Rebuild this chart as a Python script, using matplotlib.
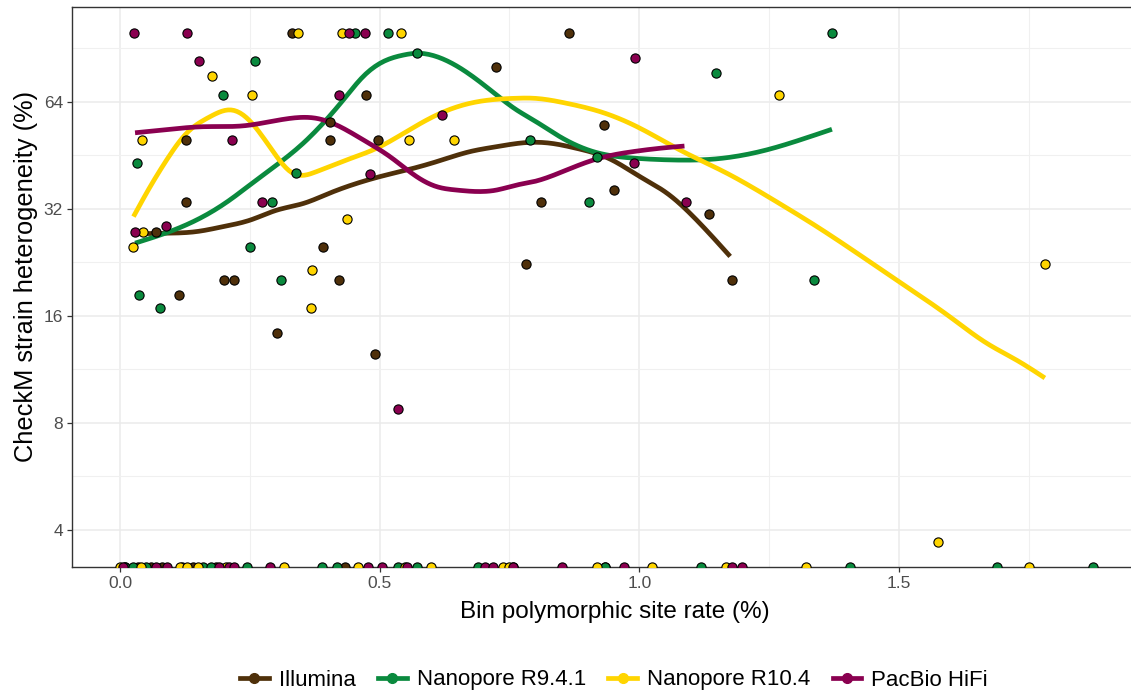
import numpy as np
import matplotlib
matplotlib.use("Agg")
import matplotlib.pyplot as plt
from matplotlib.lines import Line2D
from matplotlib.ticker import FixedLocator, FixedFormatter

plt.rcParams['font.family'] = ['Liberation Sans', 'DejaVu Sans']

# ---------------- data ----------------
groups = ["Illumina", "Nanopore R9.4.1", "Nanopore R10.4", "PacBio HiFi"]
colors = ["#4F300A", "#0A8A3E", "#FFD500", "#8A0050"]

# points (0 = zero heterogeneity, drawn at the panel floor)
illumina_x = [0.331, 0.865, 0.725, 0.473, 0.404, 0.128, 0.404, 0.496, 0.933, 0.952,
              0.127, 0.811, 1.135, 0.069, 0.391, 0.782, 0.201, 0.220, 0.421, 1.179,
              0.114, 0.302, 0.491,
              0.010, 0.035, 0.060, 0.080, 0.120, 0.140, 0.185, 0.433, 0.757, 0.934]
illumina_y = [100, 100, 80, 67, 56, 50, 50, 50, 55, 36,
              33.4, 33.4, 31, 27.6, 25, 22.4, 20.2, 20.2, 20.2, 20.2,
              18.3, 14.3, 12.5,
              0, 0, 0, 0, 0, 0, 0, 0, 0, 0]

r941_x = [0.453, 0.517, 1.371, 0.571, 0.260, 1.147, 0.199, 0.790, 0.918, 0.032,
          0.338, 0.292, 0.904, 0.250, 0.311, 1.337, 0.037, 0.077,
          0.010, 0.025, 0.050, 0.160, 0.175, 0.245, 0.389, 0.418, 0.535, 0.572,
          0.689, 0.934, 1.119, 1.405, 1.689, 1.873]
r941_y = [100, 100, 100, 87.5, 83, 77, 67, 50, 44.6, 43,
          40.3, 33.4, 33.4, 25, 20.2, 20.2, 18.3, 16.8,
          0, 0, 0, 0, 0, 0, 0, 0, 0, 0,
          0, 0, 0, 0, 0, 0]

r104_x = [0.343, 0.427, 0.542, 0.177, 0.254, 1.270, 0.042, 0.557, 0.644, 0.437,
          0.044, 0.026, 0.369, 0.367, 1.782, 1.576,
          0.000, 0.040, 0.115, 0.130, 0.150, 0.205, 0.316, 0.458, 0.548, 0.598,
          0.737, 0.750, 0.918, 1.024, 1.167, 1.322, 1.750]
r104_y = [100, 100, 100, 75.5, 67, 67, 50, 50, 50, 30,
          27.6, 25, 21.5, 16.8, 22.4, 3.7,
          0, 0, 0, 0, 0, 0, 0, 0, 0, 0,
          0, 0, 0, 0, 0, 0, 0]

hifi_x = [0.0275, 0.129, 0.441, 0.471, 0.152, 0.992, 0.421, 0.621, 0.216, 0.990,
          0.481, 0.274, 1.089, 0.029, 0.089, 0.536,
          0.005, 0.070, 0.090, 0.190, 0.210, 0.220, 0.289, 0.477, 0.504, 0.553,
          0.703, 0.718, 0.757, 0.851, 0.970, 1.178, 1.198]
hifi_y = [100, 100, 100, 100, 83, 84.7, 67, 58.7, 50, 43,
          40, 33.4, 33.4, 27.6, 28.6, 8.75,
          0, 0, 0, 0, 0, 0, 0, 0, 0, 0,
          0, 0, 0, 0, 0, 0, 0]

# smoothed trend curves
illumina_sx = [0.033, 0.090, 0.148, 0.199, 0.250, 0.302, 0.353, 0.404, 0.456, 0.501,
               0.552, 0.610, 0.674, 0.725, 0.783, 0.828, 0.879, 0.944, 1.001, 1.053,
               1.104, 1.175]
illumina_sy = [27.2, 27.3, 27.6, 28.5, 29.7, 31.7, 33.1, 35.4, 37.7, 39.4,
               41.1, 43.4, 46.3, 47.8, 49.1, 48.9, 47.3, 44.1, 39.4, 35.4,
               30.4, 23.5]

r941_sx = [0.029, 0.096, 0.160, 0.212, 0.250, 0.302, 0.353, 0.391, 0.430, 0.468,
           0.507, 0.546, 0.571, 0.610, 0.661, 0.713, 0.764, 0.796, 0.847, 0.918,
           0.988, 1.053, 1.142, 1.245, 1.309, 1.371]
r941_sy = [25.6, 27.6, 30.4, 33.9, 37.3, 42.5, 48.9, 55.6, 64.7, 75.2,
           82.9, 86.5, 87.5, 85.6, 78.5, 69.0, 60.6, 56.8, 51.0, 46.0,
           44.4, 43.9, 44.1, 46.8, 49.9, 53.5]

r104_sx = [0.026, 0.051, 0.090, 0.128, 0.173, 0.215, 0.237, 0.270, 0.302, 0.331,
           0.379, 0.437, 0.494, 0.546, 0.610, 0.674, 0.764, 0.796, 0.860, 0.924,
           1.001, 1.078, 1.168, 1.258, 1.342, 1.438, 1.515, 1.598, 1.669, 1.727,
           1.781]
r104_sy = [30.4, 35.4, 43.9, 52.1, 58.0, 60.6, 58.7, 52.1, 44.8, 40.4,
           40.7, 43.9, 47.3, 52.1, 58.7, 63.3, 65.4, 65.4, 63.3, 60.0,
           53.9, 46.8, 40.3, 33.9, 28.5, 23.0, 19.3, 15.9, 13.4, 12.0,
           10.7]

hifi_sx = [0.029, 0.096, 0.160, 0.237, 0.289, 0.327, 0.379, 0.417, 0.469, 0.520,
           0.571, 0.610, 0.648, 0.725, 0.764, 0.796, 0.860, 0.924, 0.988, 1.039,
           1.087]
hifi_sy = [52.3, 53.5, 54.4, 54.7, 56.2, 57.4, 57.4, 55.0, 49.9, 44.8,
           39.4, 36.9, 36.1, 36.1, 37.3, 38.1, 41.1, 44.4, 46.3, 47.3,
           48.0]

xticks = [0.0, 0.5, 1.0, 1.5]
xtick_labels = ["0.0", "0.5", "1.0", "1.5"]
yticks = [4, 8, 16, 32, 64]
ytick_labels = ["4", "8", "16", "32", "64"]

points = [(illumina_x, illumina_y), (r941_x, r941_y), (r104_x, r104_y), (hifi_x, hifi_y)]
curves = [(illumina_sx, illumina_sy), (r941_sx, r941_sy), (r104_sx, r104_sy), (hifi_sx, hifi_sy)]


def natural_spline(x, y, n=300):
    """Render a smooth curve through the read-off curve points (natural cubic spline)."""
    x = np.asarray(x, float)
    y = np.asarray(y, float)
    m = len(x)
    h = np.diff(x)
    A = np.zeros((m, m))
    b = np.zeros(m)
    A[0, 0] = A[-1, -1] = 1.0
    for i in range(1, m - 1):
        A[i, i - 1] = h[i - 1]
        A[i, i] = 2 * (h[i - 1] + h[i])
        A[i, i + 1] = h[i]
        b[i] = 3 * ((y[i + 1] - y[i]) / h[i] - (y[i] - y[i - 1]) / h[i - 1])
    c = np.linalg.solve(A, b)
    bb = (y[1:] - y[:-1]) / h - h * (2 * c[:-1] + c[1:]) / 3
    d = (c[1:] - c[:-1]) / (3 * h)
    xs = np.linspace(x[0], x[-1], n)
    idx = np.clip(np.searchsorted(x, xs) - 1, 0, m - 2)
    t = xs - x[idx]
    ys = y[idx] + bb[idx] * t + c[idx] * t ** 2 + d[idx] * t ** 3
    return xs, ys


# ---------------- figure ----------------
W, H = 1131, 693
fig = plt.figure(figsize=(W / 100, H / 100), dpi=100)
left_px, right_px, top_px, bottom_px = 72, 1158, 7, 567.3
ax = fig.add_axes([left_px / W, (H - bottom_px) / H, (right_px - left_px) / W,
                   (bottom_px - top_px) / H])

ymin, ymax = 2 ** 1.652, 2 ** 6.883
xmin = -0.0924
xmax = xmin + (right_px - left_px) / 519.3

ax.set_yscale('log', base=2)
ax.set_xlim(xmin, xmax)
ax.set_ylim(ymin, ymax)

# grid
ax.set_axisbelow(True)
ax.xaxis.set_major_locator(FixedLocator(xticks))
ax.xaxis.set_major_formatter(FixedFormatter(xtick_labels))
ax.xaxis.set_minor_locator(FixedLocator([0.25, 0.75, 1.25, 1.75]))
ax.yaxis.set_major_locator(FixedLocator(yticks))
ax.yaxis.set_major_formatter(FixedFormatter(ytick_labels))
ax.yaxis.set_minor_locator(FixedLocator([4 * 2 ** 0.5, 8 * 2 ** 0.5, 16 * 2 ** 0.5,
                                         32 * 2 ** 0.5, 64 * 2 ** 0.5]))
ax.yaxis.set_minor_formatter(FixedFormatter([""] * 5))
ax.grid(which='major', color='#EBEBEB', linewidth=1.1)
ax.grid(which='minor', color='#F0F0F0', linewidth=0.8)
ax.tick_params(which='minor', length=0)
ax.tick_params(which='major', length=3.5, width=0.9, color='#333333',
               labelsize=12.5, labelcolor='#4D4D4D', pad=3)

for sp in ax.spines.values():
    sp.set_color('#333333')
    sp.set_linewidth(1.0)

# smooth lines (spline in log2 space through the read-off curve values)
for (sx, sy), c in zip(curves, colors):
    xs, ly = natural_spline(sx, np.log2(sy))
    ax.plot(xs, 2 ** ly, color=c, linewidth=3.4, solid_capstyle='butt', zorder=3)

# points
for (px, py), c in zip(points, colors):
    px = np.asarray(px, float)
    py = np.asarray(py, float)
    py_plot = np.where(py > 0, py, ymin)
    ax.scatter(px, py_plot, s=44, facecolor=c, edgecolor='black', linewidth=0.8,
               zorder=4, clip_on=True)

ax.set_xlabel("Bin polymorphic site rate (%)", fontsize=17.5, color='black', labelpad=7)
ax.set_ylabel("CheckM strain heterogeneity (%)", fontsize=18.3, color='black')
ax.yaxis.set_label_coords(-0.031, 0.52)

# legend
handles = [Line2D([0], [0], color=c, linewidth=3.4, marker='o', markersize=7,
                  markerfacecolor=c, markeredgecolor=c) for c in colors]
fig.legend(handles, groups, loc='center', bbox_to_anchor=(614 / W, 1 - 680 / H),
           ncol=4, frameon=False, fontsize=16, handlelength=1.3, handletextpad=0.45,
           columnspacing=1.0)

fig.savefig("out.png", dpi=100)
